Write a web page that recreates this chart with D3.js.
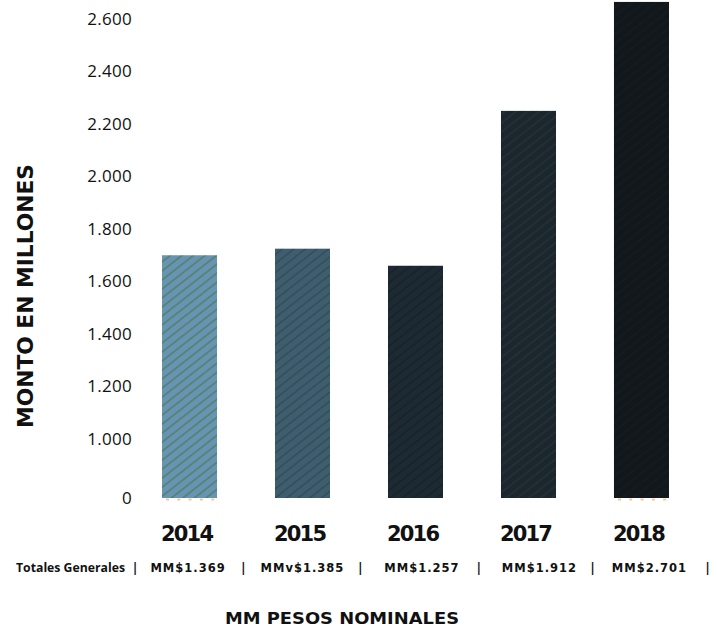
<!DOCTYPE html>
<html>
<head>
<meta charset="utf-8">
<script src="https://cdn.jsdelivr.net/npm/d3@7/dist/d3.min.js"></script>
<style>
  html, body { margin: 0; padding: 0; background: #fff; }
  svg { display: block; }
  text { fill: #111; }
</style>
</head>
<body>
<svg id="chart" width="727" height="632"></svg>
<script>
// Yearly amounts (millions) and the totals row printed under the chart
const years = ["2014", "2015", "2016", "2017", "2018"];
const amounts = [1700, 1725, 1660, 2250, 2665];
const totals = ["MM$1.369", "MMv$1.385", "MM$1.257", "MM$1.912", "MM$2.701"];
const tickValues = [0, 1000, 1200, 1400, 1600, 1800, 2000, 2200, 2400, 2600];
const tickLabels = ["0", "1.000", "1.200", "1.400", "1.600", "1.800", "2.000", "2.200", "2.400", "2.600"];
const barFills = ["#6595b3", "#3e5d6e", "#1e2a33", "#1c262d", "#11171b"];
const stripeFills = ["#5b8074", "#34505a", "#18232b", "#222f37", "#141b20"];

const svg = d3.select("#chart");
const defs = svg.append("defs");

// Broken value axis: the 0 → 1.000 gap is drawn compressed like one tick step
const y = d3.scaleLinear()
  .domain([0, 1000, 2600])
  .range([498, 439, 19]);

const x = d3.scaleBand()
  .domain(years)
  .range([162, 669])
  .paddingInner(0.513)
  .paddingOuter(0);

// Diagonal hatch pattern per bar
years.forEach((yr, i) => {
  const p = defs.append("pattern")
    .attr("id", "hatch-" + yr)
    .attr("patternUnits", "userSpaceOnUse")
    .attr("width", 10)
    .attr("height", 7.1)
    .attr("patternTransform", "rotate(-38)");
  p.append("rect").attr("width", 10).attr("height", 7.1).attr("fill", barFills[i]);
  p.append("rect").attr("y", 0).attr("width", 10).attr("height", 1.8).attr("fill", stripeFills[i]);
});

// Y axis tick labels
const yAxis = d3.axisLeft(y)
  .tickValues(tickValues)
  .tickFormat((d, i) => tickLabels[i])
  .tickSize(0)
  .tickPadding(0);

const gy = svg.append("g")
  .attr("transform", "translate(132,0)")
  .call(yAxis);
gy.select(".domain").remove();
gy.selectAll("text")
  .attr("font-family", "'Open Sans', sans-serif")
  .attr("font-size", 17)
  .attr("fill", "#111")
  .attr("letter-spacing", 0.3);

// Bars
svg.append("g").selectAll("rect")
  .data(years.map((yr, i) => ({ yr, v: amounts[i], i })))
  .join("rect")
  .attr("x", d => x(d.yr))
  .attr("y", d => y(d.v))
  .attr("width", x.bandwidth())
  .attr("height", d => y(0) - y(d.v))
  .attr("fill", d => "url(#hatch-" + d.yr + ")");

// Small tan dashes along the base of the first and last bars
svg.append("g").selectAll("line")
  .data([years[0], years[4]])
  .join("line")
  .attr("x1", d => x(d) + 4)
  .attr("x2", d => x(d) + x.bandwidth())
  .attr("y1", y(0) + 1.5)
  .attr("y2", y(0) + 1.5)
  .attr("stroke", "#efcc94")
  .attr("stroke-width", 2)
  .attr("stroke-dasharray", "3 8.3");

// Year labels
svg.append("g").selectAll("text")
  .data(years)
  .join("text")
  .attr("x", d => x(d) + x.bandwidth() / 2 - 2)
  .attr("y", 541)
  .attr("text-anchor", "middle")
  .attr("font-family", "'DejaVu Sans', sans-serif")
  .attr("font-weight", "bold")
  .attr("font-size", 21)
  .attr("textLength", 53)
  .text(d => d);

// Totals row
const totalNudge = [-1.5, 0, 6.5, 11, 8];
const totalX = years.map((yr, i) => x(yr) + x.bandwidth() / 2 + totalNudge[i]);

svg.append("text")
  .attr("x", 16)
  .attr("y", 572)
  .attr("font-family", "'Open Sans', sans-serif")
  .attr("font-weight", "bold")
  .attr("font-size", 12.5)
  .attr("textLength", 109)
  .attr("lengthAdjust", "spacingAndGlyphs")
  .text("Totales Generales");

const sepX = [135].concat(totalX.map((cx, i) => i < totalX.length - 1 ? (cx + totalX[i + 1]) / 2 - 2 : cx + 58));

svg.append("g").selectAll("text")
  .data(sepX)
  .join("text")
  .attr("x", d => d)
  .attr("y", 572)
  .attr("text-anchor", "middle")
  .attr("font-family", "'Open Sans', sans-serif")
  .attr("font-weight", "bold")
  .attr("font-size", 12)
  .text("|");

svg.append("g").selectAll("text")
  .data(totals)
  .join("text")
  .attr("x", (d, i) => totalX[i])
  .attr("y", 572)
  .attr("text-anchor", "middle")
  .attr("font-family", "'DejaVu Sans', sans-serif")
  .attr("font-weight", "bold")
  .attr("font-size", 11.5)
  .attr("letter-spacing", 1)
  .text(d => d);

// Axis titles
svg.append("text")
  .attr("transform", "translate(33,296) rotate(-90)")
  .attr("text-anchor", "middle")
  .attr("font-family", "'DejaVu Sans', sans-serif")
  .attr("font-weight", "bold")
  .attr("font-size", 22)
  .attr("textLength", 264)
  .attr("lengthAdjust", "spacingAndGlyphs")
  .text("MONTO EN MILLONES");

svg.append("text")
  .attr("x", 342)
  .attr("y", 624)
  .attr("text-anchor", "middle")
  .attr("font-family", "'DejaVu Sans', sans-serif")
  .attr("font-weight", "bold")
  .attr("font-size", 15)
  .attr("textLength", 234)
  .attr("lengthAdjust", "spacingAndGlyphs")
  .text("MM PESOS NOMINALES");
</script>
</body>
</html>
